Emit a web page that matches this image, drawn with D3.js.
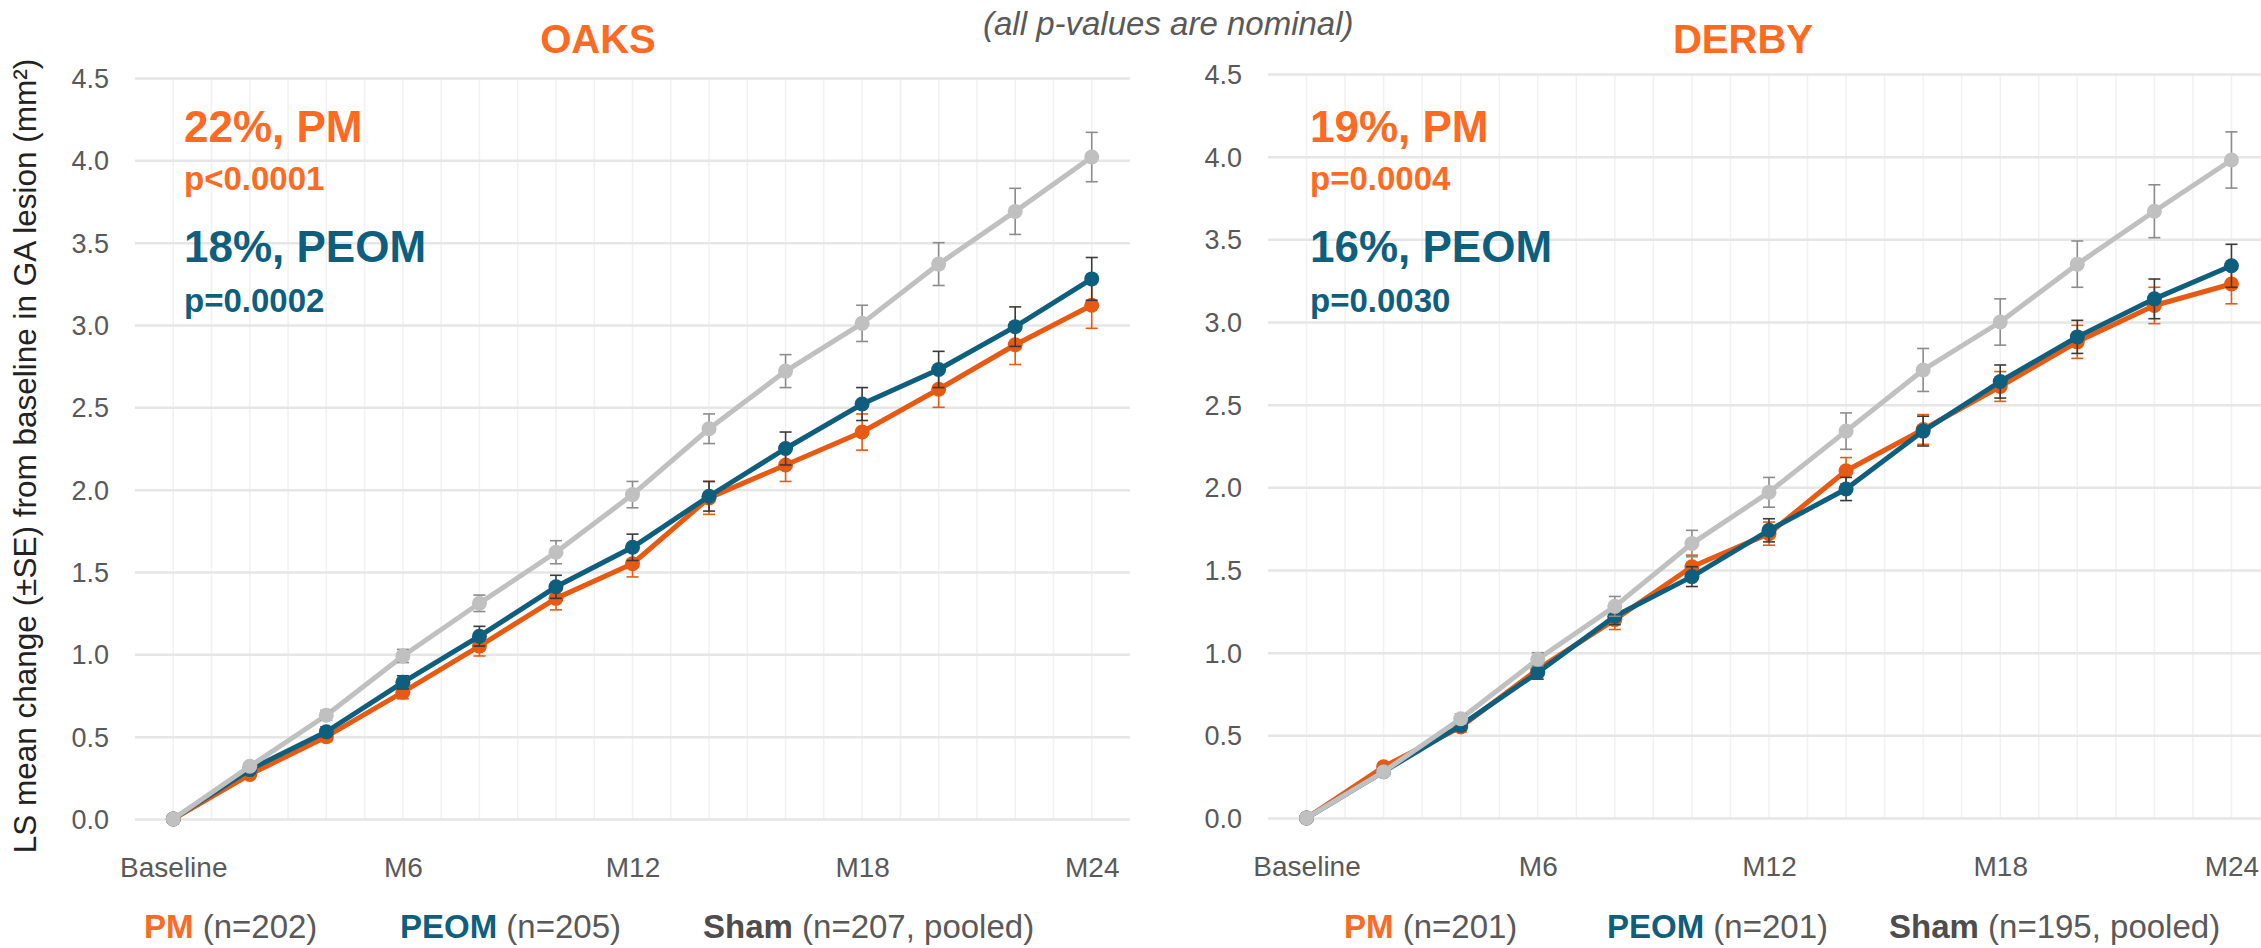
<!DOCTYPE html>
<html>
<head>
<meta charset="utf-8">
<script src="https://cdn.jsdelivr.net/npm/d3@7"></script>
<style>
  html, body { margin: 0; padding: 0; background: #ffffff; }
  svg { display: block; font-family: "Liberation Sans", Arial, sans-serif; }
</style>
</head>
<body>
<svg id="chart" width="2261" height="948"></svg>
<script>
// Visit months (every 2 months from baseline to month 24)
const months = [0, 2, 4, 6, 8, 10, 12, 14, 16, 18, 20, 22, 24];
const xTickMonths = [0, 6, 12, 18, 24];
const xTickLabels = ["Baseline", "M6", "M12", "M18", "M24"];
const yTicks = [0, 0.5, 1.0, 1.5, 2.0, 2.5, 3.0, 3.5, 4.0, 4.5];

// OAKS: LS mean change from baseline (mm²) and SE
const oaksPM      = [0, 0.27, 0.50, 0.77, 1.05, 1.34, 1.55, 1.95, 2.15, 2.35, 2.61, 2.88, 3.12];
const oaksPMse    = [0, 0.02, 0.03, 0.04, 0.06, 0.07, 0.08, 0.10, 0.10, 0.11, 0.11, 0.12, 0.14];
const oaksPEOM    = [0, 0.30, 0.53, 0.83, 1.11, 1.41, 1.65, 1.96, 2.25, 2.52, 2.73, 2.99, 3.28];
const oaksPEOMse  = [0, 0.02, 0.03, 0.04, 0.06, 0.07, 0.08, 0.09, 0.10, 0.10, 0.11, 0.12, 0.13];
const oaksSham    = [0, 0.32, 0.63, 0.99, 1.31, 1.62, 1.97, 2.37, 2.72, 3.01, 3.37, 3.69, 4.02];
const oaksShamse  = [0, 0.02, 0.03, 0.04, 0.05, 0.07, 0.08, 0.09, 0.10, 0.11, 0.13, 0.14, 0.15];

// DERBY: LS mean change from baseline (mm²) and SE
const derbyPM     = [0, 0.31, 0.55, 0.90, 1.20, 1.52, 1.72, 2.10, 2.35, 2.61, 2.88, 3.10, 3.23];
const derbyPMse   = [0, 0.02, 0.03, 0.04, 0.06, 0.07, 0.07, 0.08, 0.09, 0.09, 0.10, 0.11, 0.12];
const derbyPEOM   = [0, 0.28, 0.56, 0.88, 1.22, 1.46, 1.74, 1.99, 2.34, 2.64, 2.91, 3.14, 3.34];
const derbyPEOMse = [0, 0.02, 0.03, 0.04, 0.05, 0.06, 0.07, 0.07, 0.09, 0.10, 0.10, 0.12, 0.13];
const derbySham   = [0, 0.28, 0.60, 0.96, 1.28, 1.66, 1.97, 2.34, 2.71, 3.00, 3.35, 3.67, 3.98];
const derbyShamse = [0, 0.02, 0.03, 0.04, 0.06, 0.08, 0.09, 0.11, 0.13, 0.14, 0.14, 0.16, 0.17];

// Annotation and legend text
const oaksAnnot  = ["22%, PM", "p<0.0001", "18%, PEOM", "p=0.0002"];
const derbyAnnot = ["19%, PM", "p=0.0004", "16%, PEOM", "p=0.0030"];
const oaksN  = ["(n=202)", "(n=205)", "(n=207, pooled)"];
const derbyN = ["(n=201)", "(n=201)", "(n=195, pooled)"];
const groupNames = ["PM", "PEOM", "Sham"];

const C = {
  orangeText: "#FF6A22",
  orangeLine: "#E85A12",
  teal: "#0E5E7E",
  grayLine: "#C0C0C0",
  tickText: "#595959",
  hGrid: "#E6E6E6",
  vGrid: "#F1F1F1"
};

const svg = d3.select("#chart");

function panel(cfg) {
  const x = d3.scaleLinear().domain([-1, 25]).range([cfg.left, cfg.right]);
  const y = d3.scaleLinear().domain([0, 4.5]).range([cfg.y0, cfg.y45]);
  const g = svg.append("g");

  // vertical monthly gridlines
  g.append("g").selectAll("line").data(d3.range(0, 25)).join("line")
    .attr("x1", d => x(d)).attr("x2", d => x(d))
    .attr("y1", y(4.5)).attr("y2", y(0))
    .attr("stroke", C.vGrid).attr("stroke-width", 1.5);

  // horizontal gridlines + y-axis labels via d3.axisLeft
  const yAxis = d3.axisLeft(y).tickValues(yTicks).tickFormat(d3.format(".1f"))
    .tickSize(-(cfg.right - cfg.left)).tickPadding(cfg.left - cfg.labelX);
  const ya = g.append("g").attr("transform", `translate(${cfg.left},0)`).call(yAxis);
  ya.select(".domain").remove();
  ya.selectAll(".tick line").attr("stroke", C.hGrid).attr("stroke-width", 2.5);
  ya.selectAll(".tick text").attr("fill", C.tickText)
    .style("font-size", "27px").attr("dy", "0.35em");

  // x-axis labels
  const xAxis = d3.axisBottom(x).tickValues(xTickMonths)
    .tickFormat((d, i) => xTickLabels[i]).tickSize(0).tickPadding(0);
  const xa = g.append("g").attr("transform", `translate(0,${cfg.y0 + 48})`).call(xAxis);
  xa.select(".domain").remove();
  xa.selectAll(".tick text").attr("fill", C.tickText)
    .style("font-size", "28px").attr("dy", "0.35em");

  const line = d3.line().x((d, i) => x(months[i])).y(d => y(d));

  cfg.series.forEach(s => {
    const sg = g.append("g");
    sg.append("path").datum(s.values).attr("d", line)
      .attr("fill", "none").attr("stroke", s.color).attr("stroke-width", 5)
      .attr("stroke-linejoin", "round");
    const eb = sg.append("g").selectAll("g").data(s.values.map((v, i) => ({m: months[i], v, se: s.se[i]})).filter(d => d.se > 0))
      .join("g").attr("stroke", s.errColor).attr("stroke-width", 1.6);
    eb.append("line").attr("x1", d => x(d.m)).attr("x2", d => x(d.m))
      .attr("y1", d => y(d.v - d.se)).attr("y2", d => y(d.v + d.se));
    eb.append("line").attr("x1", d => x(d.m) - 6).attr("x2", d => x(d.m) + 6)
      .attr("y1", d => y(d.v + d.se)).attr("y2", d => y(d.v + d.se));
    eb.append("line").attr("x1", d => x(d.m) - 6).attr("x2", d => x(d.m) + 6)
      .attr("y1", d => y(d.v - d.se)).attr("y2", d => y(d.v - d.se));
    sg.append("g").selectAll("circle").data(s.values).join("circle")
      .attr("cx", (d, i) => x(months[i])).attr("cy", d => y(d))
      .attr("r", 7.5).attr("fill", s.color);
  });

  // title
  svg.append("text").attr("x", cfg.titleX).attr("y", 53).attr("text-anchor", "middle")
    .attr("fill", C.orangeText).style("font-size", "40px").style("font-weight", "bold")
    .text(cfg.title);

  // effect annotations
  const ax = cfg.annotX;
  const ann = [
    {t: cfg.annot[0], y: 142, size: 44, c: C.orangeText},
    {t: cfg.annot[1], y: 190, size: 33, c: C.orangeText},
    {t: cfg.annot[2], y: 262, size: 44, c: C.teal},
    {t: cfg.annot[3], y: 312, size: 33, c: C.teal}
  ];
  ann.forEach(a => svg.append("text").attr("x", ax).attr("y", a.y)
    .attr("fill", a.c).style("font-size", a.size + "px").style("font-weight", "bold").text(a.t));

  // legend
  const legColors = [C.orangeText, C.teal, "#4D4D4D"];
  cfg.legendX.forEach((lx, i) => {
    const t = svg.append("text").attr("x", lx).attr("y", 938).style("font-size", "33px");
    t.append("tspan").attr("fill", legColors[i]).style("font-weight", "bold").text(groupNames[i]);
    t.append("tspan").attr("fill", "#595959").text(" " + cfg.nLabels[i]);
  });
}

panel({
  left: 135, right: 1130, y0: 819, y45: 78, labelX: 109,
  title: "OAKS", titleX: 598, annotX: 184, annot: oaksAnnot,
  nLabels: oaksN, legendX: [144, 400, 703],
  series: [
    {values: oaksPM, se: oaksPMse, color: C.orangeLine, errColor: C.orangeLine},
    {values: oaksPEOM, se: oaksPEOMse, color: C.teal, errColor: "#3A3A3A"},
    {values: oaksSham, se: oaksShamse, color: C.grayLine, errColor: "#8C8C8C"}
  ]
});

panel({
  left: 1268, right: 2270, y0: 818, y45: 74, labelX: 1242,
  title: "DERBY", titleX: 1743, annotX: 1310, annot: derbyAnnot,
  nLabels: derbyN, legendX: [1344, 1607, 1889],
  series: [
    {values: derbyPM, se: derbyPMse, color: C.orangeLine, errColor: C.orangeLine},
    {values: derbyPEOM, se: derbyPEOMse, color: C.teal, errColor: "#3A3A3A"},
    {values: derbySham, se: derbyShamse, color: C.grayLine, errColor: "#8C8C8C"}
  ]
});

// shared note
svg.append("text").attr("x", 983).attr("y", 35).attr("fill", "#595959")
  .style("font-size", "33px").style("font-style", "italic")
  .text("(all p-values are nominal)");

// y-axis title
svg.append("text").attr("transform", "translate(36,456) rotate(-90)")
  .attr("text-anchor", "middle").attr("fill", "#222222").style("font-size", "31.5px")
  .text("LS mean change (±SE) from baseline in GA lesion (mm²)");
</script>
</body>
</html>
